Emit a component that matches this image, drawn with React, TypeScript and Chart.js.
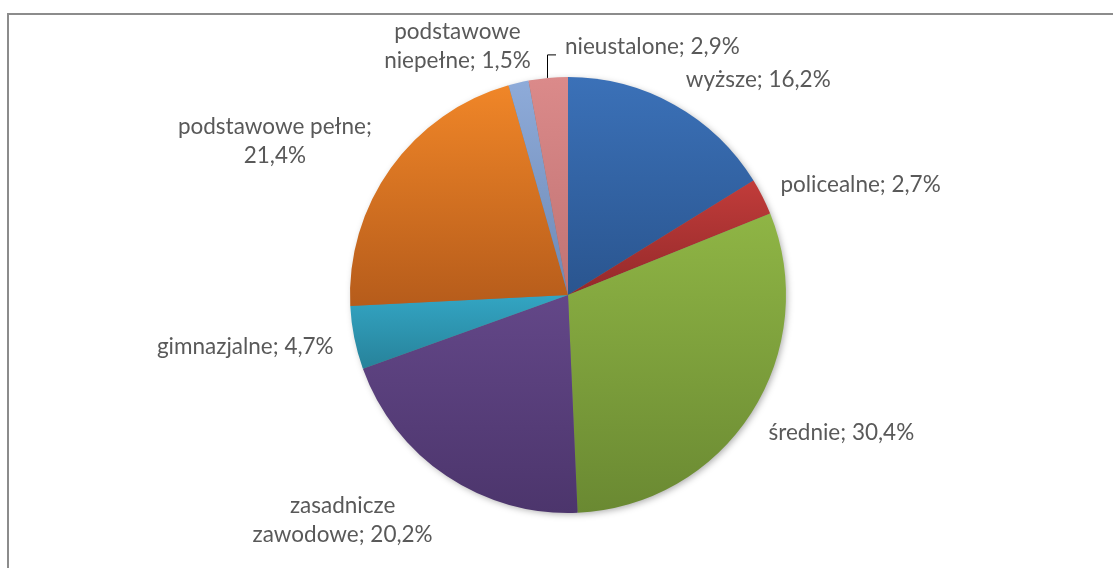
import React, { useEffect, useRef } from "react";
import { Chart, registerables } from "chart.js";

Chart.register(...registerables);

const categories = [
  "wyższe",
  "policealne",
  "średnie",
  "zasadnicze zawodowe",
  "gimnazjalne",
  "podstawowe pełne",
  "podstawowe niepełne",
  "nieustalone",
];
const values = [16.2, 2.7, 30.4, 20.2, 4.7, 21.4, 1.5, 2.9];
const labelLines = [
  ["wyższe; 16,2%"],
  ["policealne; 2,7%"],
  ["średnie; 30,4%"],
  ["zasadnicze", "zawodowe; 20,2%"],
  ["gimnazjalne; 4,7%"],
  ["podstawowe pełne;", "21,4%"],
  ["podstawowe", "niepełne; 1,5%"],
  ["nieustalone; 2,9%"],
];

// style: gradient top / bottom colours per slice
const topColors = ["#3b71b8", "#c13c3a", "#8fb545", "#634788", "#33a5c3", "#f08628", "#8eabd9", "#db8a8a"];
const bottomColors = ["#2a558f", "#94292a", "#6a8932", "#4c356c", "#27829a", "#b65c1b", "#6e89b5", "#c07373"];
// style: label centre offsets from slice's outer mid point
const labelOffsets: [number, number][] = [
  [84, -25],
  [98, -12],
  [90, 20],
  [-104, 44],
  [-109, 9],
  [-116, -27],
  [-61, -36],
  [0, 0],
];

const FONT = "22.5px Lato";
const LINE_H = 29;
const TEXT_COLOR = "#595959";

function sliceGradient(ctx: any, chart: any, i: number) {
  const area = chart.chartArea;
  if (!area) return topColors[i];
  const cx = (area.left + area.right) / 2;
  const cy = (area.top + area.bottom) / 2;
  const r = Math.min(area.right - area.left, area.bottom - area.top) / 2;
  const total = values.reduce((a, b) => a + b, 0);
  let cum = 0;
  for (let k = 0; k < i; k++) cum += values[k];
  const a0 = -Math.PI / 2 + (cum / total) * 2 * Math.PI;
  const a1 = a0 + (values[i] / total) * 2 * Math.PI;
  const ys = [cy];
  const N = 40;
  for (let s = 0; s <= N; s++) {
    const a = a0 + ((a1 - a0) * s) / N;
    ys.push(cy + r * Math.sin(a));
  }
  const y0 = Math.min(...ys);
  const y1 = Math.max(...ys);
  const g = ctx.createLinearGradient(0, y0, 0, Math.max(y1, y0 + 1));
  g.addColorStop(0, topColors[i]);
  g.addColorStop(1, bottomColors[i]);
  return g;
}

const framePlugin = {
  id: "frame",
  beforeDraw(chart: any) {
    const ctx = chart.ctx;
    ctx.save();
    ctx.fillStyle = "#ffffff";
    ctx.fillRect(0, 0, chart.width, chart.height);
    ctx.strokeStyle = "#8c8c8c";
    ctx.lineWidth = 2;
    ctx.strokeRect(8, 14, chart.width + 50, chart.height + 50);
    ctx.restore();
  },
  beforeDatasetsDraw(chart: any) {
    const meta = chart.getDatasetMeta(0);
    const arc = meta.data[0];
    if (!arc) return;
    const ctx = chart.ctx;
    ctx.save();
    ctx.shadowColor = "rgba(0,0,0,0.35)";
    ctx.shadowBlur = 7;
    ctx.shadowOffsetX = 2;
    ctx.shadowOffsetY = 2;
    ctx.fillStyle = "#777";
    ctx.beginPath();
    ctx.arc(arc.x, arc.y, arc.outerRadius - 1, 0, Math.PI * 2);
    ctx.fill();
    ctx.restore();
  },
};

const labelPlugin = {
  id: "sliceLabels",
  afterDatasetsDraw(chart: any) {
    const ctx = chart.ctx;
    const meta = chart.getDatasetMeta(0);
    ctx.save();
    ctx.font = FONT;
    ctx.fillStyle = TEXT_COLOR;
    ctx.textBaseline = "middle";
    meta.data.forEach((arc: any, i: number) => {
      const mid = (arc.startAngle + arc.endAngle) / 2;
      const ax = arc.x + arc.outerRadius * Math.cos(mid);
      const ay = arc.y + arc.outerRadius * Math.sin(mid);
      const lines = labelLines[i];
      if (i === labelLines.length - 1) {
        // leader line label
        const topY = ay - 23;
        ctx.strokeStyle = "#000000";
        ctx.lineWidth = 1;
        ctx.beginPath();
        ctx.moveTo(Math.round(ax) - 0.5, ay);
        ctx.lineTo(Math.round(ax) - 0.5, topY);
        ctx.lineTo(Math.round(ax) + 8, topY);
        ctx.stroke();
        ctx.textAlign = "left";
        ctx.fillText(lines[0], Math.round(ax) + 17, topY - 8);
        return;
      }
      const [dx, dy] = labelOffsets[i];
      const cxl = ax + dx;
      const cyl = ay + dy;
      ctx.textAlign = "center";
      const startY = cyl - ((lines.length - 1) * LINE_H) / 2;
      lines.forEach((t, k) => ctx.fillText(t, cxl, startY + k * LINE_H));
    });
    ctx.restore();
  },
};

export default function App() {
  const ref = useRef<HTMLCanvasElement>(null);
  useEffect(() => {
    if (!ref.current) return;
    const chart = new Chart(ref.current, {
      type: "pie",
      data: {
        labels: categories,
        datasets: [
          {
            data: values,
            backgroundColor: (c: any) => sliceGradient(c.chart.ctx, c.chart, c.dataIndex),
            borderWidth: 0,
          },
        ],
      },
      options: {
        responsive: false,
        animation: false,
        layout: { padding: { left: 350, right: 327, top: 77, bottom: 55 } },
        plugins: { legend: { display: false }, tooltip: { enabled: false } },
      },
      plugins: [framePlugin, labelPlugin],
    });
    return () => chart.destroy();
  }, []);
  return (
    <div style={{ position: "absolute", left: 0, top: 0, width: 1113, height: 568 }}>
      <canvas ref={ref} width={1113} height={568} style={{ display: "block" }} />
    </div>
  );
}
